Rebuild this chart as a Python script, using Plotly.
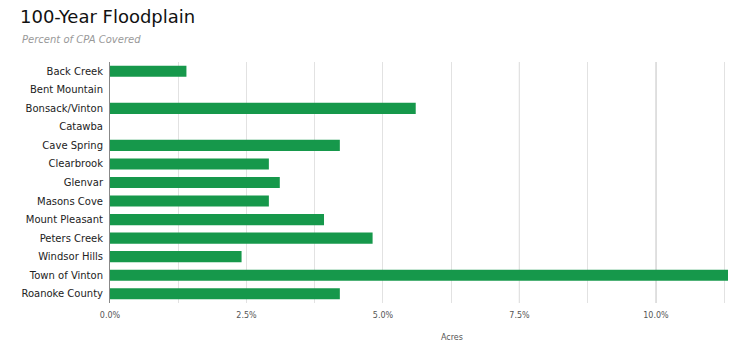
import plotly.graph_objects as go

categories = ["Back Creek", "Bent Mountain", "Bonsack/Vinton", "Catawba", "Cave Spring",
              "Clearbrook", "Glenvar", "Masons Cove", "Mount Pleasant", "Peters Creek",
              "Windsor Hills", "Town of Vinton", "Roanoke County"]
values = [1.40, 0, 5.60, 0, 4.21, 2.91, 3.11, 2.91, 3.92, 4.81, 2.41, 11.32, 4.21]
tick_vals = [0, 2.5, 5.0, 7.5, 10.0]
tick_text = ["0.0%", "2.5%", "5.0%", "7.5%", "10.0%"]

FONT = "DejaVu Sans"
fig = go.Figure()
fig.add_trace(go.Bar(
    y=categories, x=values, orientation="h",
    marker=dict(color="#16984b", line=dict(width=0)),
    hovertemplate="%{y}: %{x:.1f}%<extra></extra>",
))

fig.update_layout(
    width=751, height=353,
    margin=dict(l=110, r=23, t=62, b=50),
    plot_bgcolor="white", paper_bgcolor="white",
    bargap=0.4,
    showlegend=False,
    font=dict(family=FONT),
    title=dict(text="100-Year Floodplain", x=20/751, xanchor="left", y=1-17/353, yanchor="middle",
               font=dict(family=FONT, size=18, color="#111")),
    annotations=[
        dict(text="<i>Percent of CPA Covered</i>", xref="paper", yref="paper",
             x=-90/618, y=1+(62-40)/240.5, xanchor="left", yanchor="middle",
             showarrow=False, font=dict(family=FONT, size=10, color="#999999")),
        dict(text="Acres", xref="paper", yref="paper",
             x=(452-110)/618, y=-(337-303)/240.5, xanchor="center", yanchor="middle",
             showarrow=False, font=dict(family=FONT, size=8, color="#555")),
    ],
)
fig.update_xaxes(
    range=[0, 11.32],
    tickvals=tick_vals, ticktext=tick_text,
    tickfont=dict(family=FONT, size=8, color="#555"),
    showgrid=True, gridcolor="#e2e2e2", gridwidth=1,
    minor=dict(dtick=1.25, showgrid=True, gridcolor="#e2e2e2", gridwidth=1),
    zeroline=False, showline=False, ticks="", ticklabelstandoff=6,
    fixedrange=True,
)
fig.update_yaxes(
    autorange="reversed",
    tickfont=dict(family=FONT, size=10, color="#222"),
    showgrid=False, showline=True, linecolor="#888", linewidth=1,
    ticks="", ticklabelstandoff=4,
    fixedrange=True,
)
fig.add_vline(x=7.5, line=dict(color="#7a7a7a", width=1), layer="below")
fig.add_vline(x=10.0, line=dict(color="#b4b4b4", width=1), layer="below")

fig.write_html("out.html")
